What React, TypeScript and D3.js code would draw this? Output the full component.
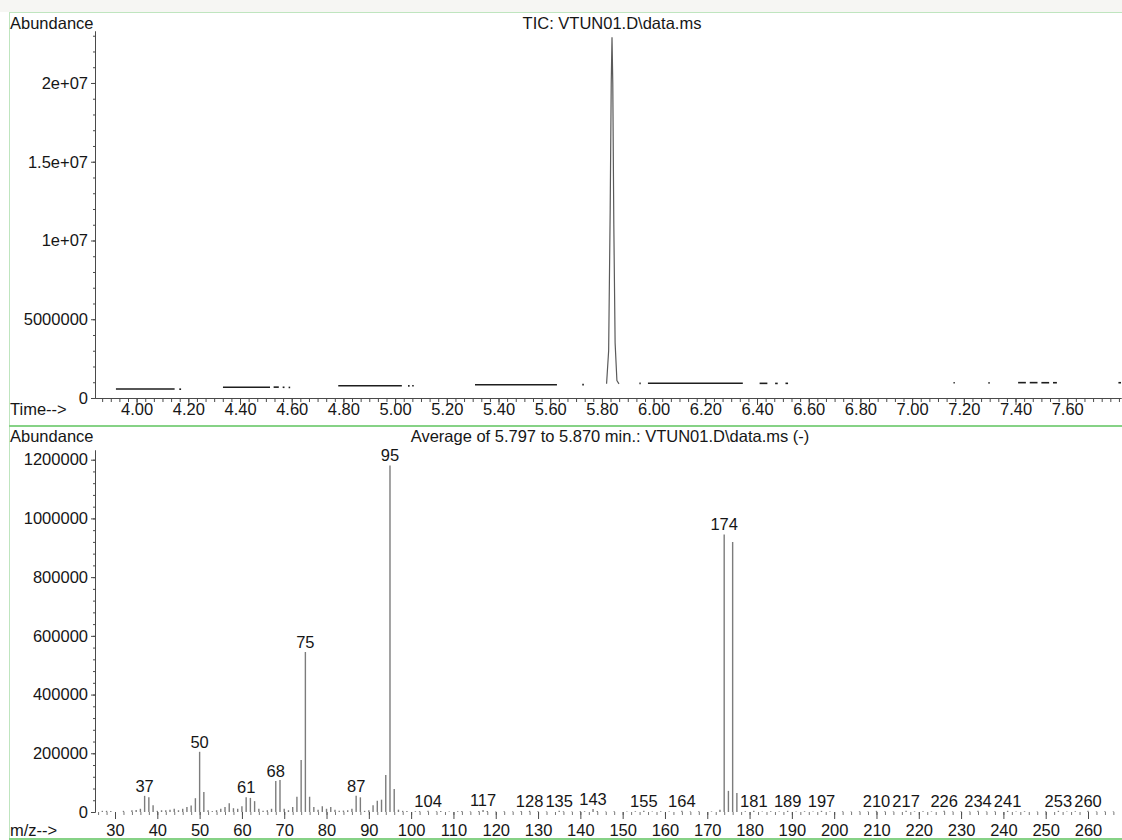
import * as d3 from "d3";
import { useEffect, useRef } from "react";

// ---- TIC chromatogram ----
// runs of scans that sit on the baseline: [start min, end min, abundance]
const ticRuns: [number, number, number][] = [
  [3.92, 4.147, 570000],
  [4.165, 4.172, 560000],
  [4.334, 4.516, 680000],
  [4.53, 4.55, 690000],
  [4.565, 4.572, 680000],
  [4.588, 4.594, 670000],
  [4.78, 5.026, 780000],
  [5.05, 5.056, 770000],
  [5.066, 5.072, 780000],
  [5.309, 5.626, 845000],
  [5.724, 5.73, 850000],
  [5.945, 5.95, 930000],
  [5.978, 6.345, 935000],
  [6.41, 6.44, 930000],
  [6.47, 6.48, 925000],
  [6.51, 6.52, 930000],
  [7.16, 7.165, 970000],
  [7.295, 7.3, 960000],
  [7.41, 7.44, 975000],
  [7.455, 7.485, 975000],
  [7.5, 7.53, 970000],
  [7.545, 7.56, 970000],
  [7.798, 7.808, 970000],
];

// the BFB peak
const peakTimes = [5.818, 5.826, 5.832, 5.836, 5.839, 5.842, 5.846, 5.851, 5.858, 5.866];
const peakValues = [900000, 3000000, 12000000, 20000000, 22900000, 20000000, 11000000, 3500000, 1100000, 900000];

const ticYTicks = [0, 5000000, 10000000, 15000000, 20000000];
const ticYLabels = ["0", "5000000", "1e+07", "1.5e+07", "2e+07"];
const ticXTicks = [4.0, 4.2, 4.4, 4.6, 4.8, 5.0, 5.2, 5.4, 5.6, 5.8, 6.0, 6.2, 6.4, 6.6, 6.8, 7.0, 7.2, 7.4, 7.6];

// ---- averaged mass spectrum: [m/z, abundance] ----
const msPeaks: [number, number][] = [
  [27, 4000], [28, 4000], [29, 3000], [32, 4000], [34, 6000], [35, 7000], [36, 11000],
  [37, 55000], [38, 50000], [39, 23000], [40, 4000], [41, 6000], [42, 6000], [43, 8000],
  [44, 11000], [45, 6000], [46, 11000], [47, 17000], [48, 22000], [49, 47000], [50, 205000],
  [51, 68000], [52, 6000], [53, 3000], [54, 6000], [55, 11000], [56, 17000], [57, 30000],
  [58, 13000], [59, 11000], [60, 20000], [61, 50000], [62, 48000], [63, 37000], [64, 11000],
  [65, 4000], [66, 6000], [67, 11000], [68, 106000], [69, 109000], [70, 11000], [71, 6000],
  [72, 17000], [73, 52000], [74, 177000], [75, 545000], [76, 52000], [77, 17000], [78, 8000],
  [79, 20000], [80, 11000], [81, 17000], [82, 8000], [83, 4000], [84, 5000], [85, 6000],
  [86, 11000], [87, 55000], [88, 50000], [89, 4000], [90, 6000], [91, 23000], [92, 38000],
  [93, 42000], [94, 126000], [95, 1180000], [96, 78000], [97, 8000], [98, 4000], [99, 3000],
  [101, 2500], [102, 3000], [104, 4000], [106, 2500], [107, 3000], [109, 2000], [111, 2500],
  [112, 3000], [114, 2000], [116, 3000], [117, 7000], [118, 3000], [120, 2000], [122, 2500],
  [124, 2000], [126, 3000], [128, 4000], [130, 2500], [132, 2000], [135, 4000], [136, 2500],
  [138, 2000], [140, 3000], [141, 2500], [143, 10000], [144, 3000], [146, 2000], [148, 2500],
  [151, 2000], [153, 2500], [155, 4000], [157, 2000], [159, 2500], [161, 2000], [164, 4000],
  [166, 2000], [168, 2500], [171, 2000], [173, 8000], [174, 945000], [175, 72000],
  [176, 920000], [177, 65000], [179, 2500], [181, 4000], [183, 2000], [185, 2500], [187, 2000],
  [189, 4000], [191, 2000], [193, 2500], [195, 2000], [197, 4000], [199, 2000], [202, 2500],
  [204, 2000], [206, 2500], [208, 2000], [210, 4000], [212, 2500], [214, 2000], [217, 4000],
  [219, 2000], [221, 2500], [223, 2000], [226, 4000], [228, 2000], [230, 2500], [232, 2000],
  [234, 4000], [236, 2000], [238, 2500], [241, 4000], [243, 2000], [245, 2500], [248, 2000],
  [250, 2500], [253, 4000], [255, 2000], [257, 2500], [260, 4000], [262, 2000], [264, 2500],
  [266, 2000],
];

const labeledMz = [37, 50, 61, 68, 75, 87, 95, 104, 117, 128, 135, 143, 155, 164, 174,
  181, 189, 197, 210, 217, 226, 234, 241, 253, 260];

const msYTicks = [0, 200000, 400000, 600000, 800000, 1000000, 1200000];
const msXTicks = [30, 40, 50, 60, 70, 80, 90, 100, 110, 120, 130, 140, 150, 160, 170, 180,
  190, 200, 210, 220, 230, 240, 250, 260];

export default function App() {
  const ref = useRef<SVGSVGElement>(null);

  useEffect(() => {
    const svg = d3.select(ref.current);
    svg.selectAll("*").remove();

    const width = 1122;
    const height = 840;
    const font = "'Liberation Sans', Arial, sans-serif";
    const fs = 16.5;
    const ink = "#161616";
    const axisX = 95;

    svg.attr("width", width).attr("height", height);
    svg.append("rect").attr("width", width).attr("height", height).attr("fill", "#fff");
    svg.append("rect").attr("width", width).attr("height", 12).attr("fill", "#f6f6f3");

    // frame lines
    svg.append("line").attr("x1", 9).attr("x2", width).attr("y1", 12.5).attr("y2", 12.5)
      .attr("stroke", "#bfe5bf");
    svg.append("line").attr("x1", 9.5).attr("x2", 9.5).attr("y1", 12).attr("y2", height)
      .attr("stroke", "#bfe5bf");
    svg.append("line").attr("x1", 9).attr("x2", width).attr("y1", 426).attr("y2", 426)
      .attr("stroke", "#86d286").attr("stroke-width", 2);
    svg.append("line").attr("x1", 9).attr("x2", width).attr("y1", 839).attr("y2", 839)
      .attr("stroke", "#86d286").attr("stroke-width", 2);

    const txt = (x: number, y: number, s: string, anchor = "start") =>
      svg.append("text")
        .attr("x", x).attr("y", y).attr("dy", "0.35em")
        .attr("text-anchor", anchor)
        .style("font-family", font).style("font-size", `${fs}px`)
        .attr("fill", ink)
        .text(s);

    const styleAxis = (g: any) => {
      g.selectAll("path").attr("stroke", "#4a4a4a");
      g.selectAll("line").attr("stroke", "#4a4a4a");
      g.selectAll("text").style("font-family", font).style("font-size", `${fs}px`).attr("fill", ink);
    };

    // ===== TIC panel =====
    const xT = d3.scaleLinear().domain([3.839, 7.808]).range([axisX, width - 1]);
    const yT = d3.scaleLinear().domain([0, 23300000]).range([398, 31]);

    txt(10, 23, "Abundance");
    txt(612, 23, "TIC: VTUN01.D\\data.ms", "middle");
    txt(10, 409, "Time-->");

    // minor x ticks
    svg.append("g").attr("transform", "translate(0,398)")
      .call(d3.axisBottom(xT).tickValues(d3.range(116, 235).map(i => i / 30)).tickSize(4)
        .tickSizeOuter(0).tickFormat(() => ""))
      .call(styleAxis);
    // major x ticks
    svg.append("g").attr("transform", "translate(0,398)")
      .call(d3.axisBottom(xT).tickValues(ticXTicks).tickSize(7).tickSizeOuter(0)
        .tickFormat((d: any) => (+d).toFixed(2)))
      .call(styleAxis)
      .call(g => g.selectAll("text").attr("y", 11).attr("dy", "0.35em"));

    // y axis
    svg.append("g").attr("transform", `translate(${axisX},0)`)
      .call(d3.axisLeft(yT).tickValues(d3.range(0, 24).map(i => i * 1000000)).tickSize(2)
        .tickSizeOuter(0).tickFormat(() => ""))
      .call(styleAxis);
    svg.append("g").attr("transform", `translate(${axisX},0)`)
      .call(d3.axisLeft(yT).tickValues(ticYTicks).tickSize(4).tickSizeOuter(0).tickPadding(3)
        .tickFormat((_d: any, i: number) => ticYLabels[i]))
      .call(styleAxis);

    const ticLine = d3.line<[number, number]>().x(d => xT(d[0])).y(d => yT(d[1]));

    svg.append("g").selectAll("path")
      .data(ticRuns)
      .enter()
      .append("path")
      .attr("d", r => ticLine([[r[0], r[2]], [r[1], r[2]]]))
      .attr("fill", "none")
      .attr("stroke", "#1e1e1e")
      .attr("stroke-width", 1.6);

    svg.append("path")
      .attr("d", ticLine(peakTimes.map((t, i) => [t, peakValues[i]] as [number, number])))
      .attr("fill", "none")
      .attr("stroke", "#5a5a5a")
      .attr("stroke-width", 1.2);

    // ===== Spectrum panel =====
    const xB = d3.scaleLinear().domain([25.27, 267.8]).range([axisX, width - 1]);
    const yB = d3.scaleLinear().domain([0, 1233000]).range([812, 450]);

    txt(10, 436, "Abundance");
    txt(610, 436, "Average of 5.797 to 5.870 min.: VTUN01.D\\data.ms (-)", "middle");
    txt(10, 830, "m/z-->");

    svg.append("g").attr("transform", `translate(${axisX},0)`)
      .call(d3.axisLeft(yB).tickValues(d3.range(0, 31).map(i => i * 40000)).tickSize(2)
        .tickSizeOuter(0).tickFormat(() => ""))
      .call(styleAxis);
    svg.append("g").attr("transform", `translate(${axisX},0)`)
      .call(d3.axisLeft(yB).tickValues(msYTicks).tickSize(4).tickSizeOuter(0).tickPadding(3)
        .tickFormat((d: any) => String(d)))
      .call(styleAxis);

    // m/z ticks, no baseline line
    svg.append("g").attr("transform", "translate(0,812)")
      .call(d3.axisBottom(xB).tickValues(d3.range(26, 268, 2)).tickSize(3).tickSizeOuter(0)
        .tickFormat(() => ""))
      .call(styleAxis)
      .call(g => g.select(".domain").remove())
      .call(g => g.selectAll("line").attr("stroke", "#777"));
    svg.append("g").attr("transform", "translate(0,812)")
      .call(d3.axisBottom(xB).tickValues(msXTicks).tickSize(7).tickSizeOuter(0)
        .tickFormat((d: any) => String(d)))
      .call(styleAxis)
      .call(g => g.select(".domain").remove())
      .call(g => g.selectAll("text").attr("y", 18).attr("dy", "0.35em"));

    svg.append("g").selectAll("line")
      .data(msPeaks)
      .enter()
      .append("line")
      .attr("x1", d => xB(d[0]))
      .attr("x2", d => xB(d[0]))
      .attr("y1", yB(0))
      .attr("y2", d => yB(d[1]))
      .attr("stroke", "#7c7c7c")
      .attr("stroke-width", 1.4);

    const peakMap = new Map(msPeaks.map(d => [d[0], d[1]]));
    svg.append("g").selectAll("text")
      .data(labeledMz)
      .enter()
      .append("text")
      .attr("x", d => xB(d))
      .attr("y", d => yB(peakMap.get(d) ?? 0) - 10)
      .attr("dy", "0.35em")
      .attr("text-anchor", "middle")
      .style("font-family", font)
      .style("font-size", `${fs}px`)
      .attr("fill", ink)
      .text(d => String(d));
  }, []);

  return <svg ref={ref} style={{ position: "absolute", left: 0, top: 0, display: "block" }} />;
}
